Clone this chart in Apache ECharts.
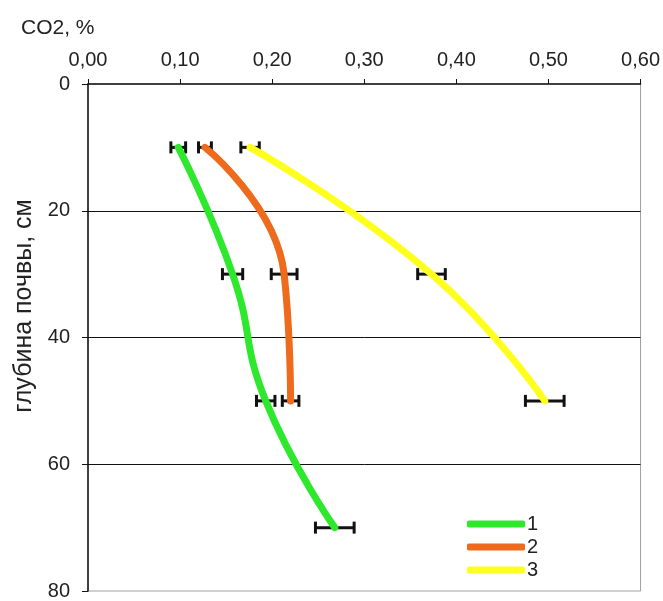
<!DOCTYPE html>
<html>
<head>
<meta charset="utf-8">
<script src="https://cdn.jsdelivr.net/npm/echarts@6/dist/echarts.min.js"></script>
<style>
  html, body { margin: 0; padding: 0; background: #fff; }
  #co2-chart { width: 663px; height: 601px; }
</style>
</head>
<body>
<div id="co2-chart"></div>
<script>
// глубина почвы, см
var depths = [10, 30, 50, 70];
// CO2, % по трём вариантам
var co2Series1 = [0.098, 0.157, 0.193, 0.268];
var co2Series2 = [0.127, 0.213, 0.220];
var co2Series3 = [0.176, 0.373, 0.496];
// полуширина погрешности
var err1 = [0.008, 0.011, 0.010, 0.021];
var err2 = [0.007, 0.014, 0.009];
var err3 = [0.010, 0.015, 0.021];
var seriesNames = ['1', '2', '3'];
var xTicks = [0, 0.1, 0.2, 0.3, 0.4, 0.5, 0.6];
var yTicks = [0, 20, 40, 60, 80];

var colors = ['#2ee82e', '#ee6a1c', '#ffff1e'];
var fontFamily = '"Liberation Sans", Arial, sans-serif';

function toPoints(vals) {
    return vals.map(function (v, i) { return [v, depths[i]]; });
}
function toErrors(vals, errs) {
    return vals.map(function (v, i) { return [depths[i], v - errs[i], v + errs[i]]; });
}

function renderError(params, api) {
    var y = api.value(0);
    var lo = api.coord([api.value(1), y]);
    var hi = api.coord([api.value(2), y]);
    var h = 6;
    var style = { stroke: '#111', lineWidth: 3 };
    return {
        type: 'group',
        children: [
            { type: 'line', shape: { x1: lo[0], y1: lo[1], x2: hi[0], y2: hi[1] }, style: style },
            { type: 'line', shape: { x1: lo[0], y1: lo[1] - h, x2: lo[0], y2: lo[1] + h }, style: style },
            { type: 'line', shape: { x1: hi[0], y1: hi[1] - h, x2: hi[0], y2: hi[1] + h }, style: style }
        ]
    };
}

var chart = echarts.init(document.getElementById('co2-chart'));

var allVals = [co2Series1, co2Series2, co2Series3];
var allErrs = [err1, err2, err3];

var series = [];
allVals.forEach(function (vals, k) {
    series.push({
        type: 'custom',
        renderItem: renderError,
        data: toErrors(vals, allErrs[k]),
        encode: { x: [1, 2], y: 0 },
        z: 2,
        silent: true
    });
});
allVals.forEach(function (vals, k) {
    series.push({
        name: seriesNames[k],
        type: 'line',
        data: toPoints(vals),
        smooth: 0.5,
        symbol: 'none',
        z: 3,
        lineStyle: { color: colors[k], width: 7, cap: 'round', join: 'round' },
        itemStyle: { color: colors[k] }
    });
});

var option = {
    animation: false,
    backgroundColor: '#fff',
    textStyle: { fontFamily: fontFamily },
    title: {
        text: 'CO2, %',
        left: 21,
        top: 18,
        padding: 0,
        textStyle: { fontSize: 21, fontWeight: 'normal', color: '#222', fontFamily: fontFamily }
    },
    graphic: [{
        type: 'text',
        x: 24,
        y: 306,
        rotation: Math.PI / 2,
        style: {
            text: 'глубина почвы, см',
            fontSize: 25,
            fontFamily: fontFamily,
            fill: '#222',
            textAlign: 'center',
            textVerticalAlign: 'middle'
        }
    }],
    grid: {
        left: 88,
        right: 22,
        top: 84,
        bottom: 4,
        show: true,
        borderColor: '#a0a0a0',
        borderWidth: 1,
        containLabel: false
    },
    legend: {
        data: seriesNames,
        orient: 'vertical',
        left: 462,
        top: 509,
        icon: 'roundRect',
        itemWidth: 58,
        itemHeight: 7,
        itemGap: 3,
        textStyle: { fontSize: 20, color: '#222', fontFamily: fontFamily, padding: [0, 0, 0, -3] }
    },
    xAxis: {
        type: 'value',
        position: 'top',
        min: xTicks[0],
        max: xTicks[xTicks.length - 1],
        interval: 0.1,
        axisLine: { show: true, lineStyle: { color: '#111', width: 1.5 } },
        axisTick: { show: true, length: 5, lineStyle: { color: '#111' } },
        axisLabel: {
            margin: 14,
            fontSize: 20,
            color: '#222',
            fontFamily: fontFamily,
            formatter: function (v) { return v.toFixed(2).replace('.', ','); }
        },
        splitLine: { show: false }
    },
    yAxis: {
        type: 'value',
        inverse: true,
        min: yTicks[0],
        max: yTicks[yTicks.length - 1],
        interval: 20,
        axisLine: { show: true, lineStyle: { color: '#111', width: 1.5 } },
        axisTick: { show: true, length: 6, lineStyle: { color: '#111' } },
        axisLabel: { margin: 18, fontSize: 20, color: '#222', fontFamily: fontFamily },
        splitLine: {
            show: true,
            showMinLine: false,
            showMaxLine: false,
            lineStyle: { color: '#111', width: 1 }
        }
    },
    series: series
};

chart.setOption(option);
</script>
</body>
</html>
